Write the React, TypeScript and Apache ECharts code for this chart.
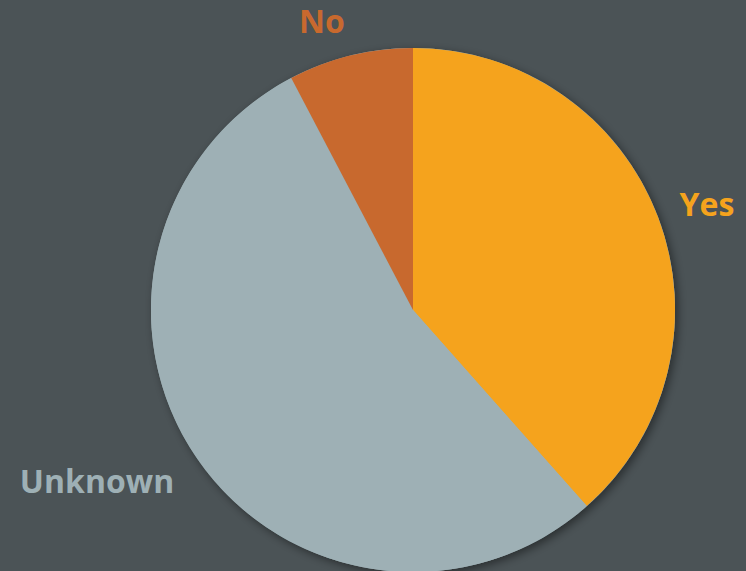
import React, { useEffect, useRef } from "react";
import * as echarts from "echarts";

const categories = ["Yes", "Unknown", "No"];
const values = [5, 7, 1];
const colors = ["#F5A31D", "#9EB0B5", "#C8692E"];
const labelPos: [number, number][] = [
  [707, 203],
  [97, 480],
  [322, 20],
];

export default function App() {
  const ref = useRef<HTMLDivElement>(null);
  useEffect(() => {
    document.body.style.margin = "0";
    const chart = echarts.init(ref.current!, null, { renderer: "svg" });
    const total = values.reduce((a, b) => a + b, 0);
    chart.setOption({
      animation: false,
      backgroundColor: "#4B5356",
      series: [
        {
          type: "pie",
          center: [413, 310],
          radius: 262,
          silent: true,
          z: 1,
          label: { show: false },
          labelLine: { show: false },
          itemStyle: {
            color: "#9EB0B5",
            shadowBlur: 10,
            shadowOffsetX: 3,
            shadowOffsetY: 3,
            shadowColor: "rgba(0,0,0,0.45)",
          },
          emphasis: { disabled: true },
          data: [{ name: "all", value: total }],
        },
        {
          type: "pie",
          center: [413, 310],
          radius: 262,
          startAngle: 90,
          clockwise: true,
          z: 2,
          label: { show: false },
          labelLine: { show: false },
          itemStyle: { borderWidth: 0 },
          emphasis: { disabled: true },
          data: categories.map((c, i) => ({
            name: c,
            value: values[i],
            itemStyle: { color: colors[i] },
          })),
        },
      ],
      graphic: categories.map((c, i) => ({
        type: "text",
        x: labelPos[i][0],
        y: labelPos[i][1],
        style: {
          text: c,
          fill: colors[i],
          font: "bold 32px 'Open Sans'",
          align: "center",
          verticalAlign: "middle",
        },
      })),
    });
    return () => chart.dispose();
  }, []);
  return <div ref={ref} style={{ width: 746, height: 571 }} />;
}
